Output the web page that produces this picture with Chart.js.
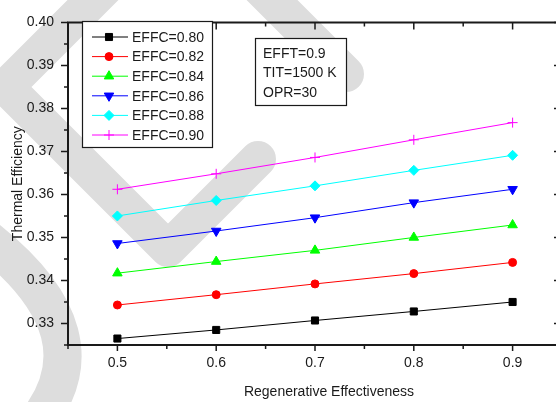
<!DOCTYPE html>
<html>
<head>
<meta charset="utf-8">
<script src="https://cdn.jsdelivr.net/npm/chart.js@4"></script>
<style>
  html, body { margin: 0; padding: 0; background: #fff; overflow: hidden; }
  #chart { display: block; }
</style>
</head>
<body>
<canvas id="chart" width="570" height="402"></canvas>
<script>
// regenerative effectiveness (x axis)
const regenEff = [0.5, 0.6, 0.7, 0.8, 0.9];

// thermal efficiency for each compressor effectiveness
const effc080 = [0.3265, 0.3285, 0.3307, 0.3328, 0.3350];
const effc082 = [0.3343, 0.3367, 0.3392, 0.3416, 0.3442];
const effc084 = [0.3417, 0.3444, 0.3470, 0.3500, 0.3529];
const effc086 = [0.3486, 0.3515, 0.3546, 0.3581, 0.3612];
const effc088 = [0.3550, 0.3586, 0.3620, 0.3656, 0.3691];
const effc090 = [0.3612, 0.3648, 0.3686, 0.3727, 0.3767];

const seriesLabels = ['EFFC=0.80', 'EFFC=0.82', 'EFFC=0.84', 'EFFC=0.86', 'EFFC=0.88', 'EFFC=0.90'];

const xTicks = [0.5, 0.6, 0.7, 0.8, 0.9];
const xMinor = [0.45, 0.55, 0.65, 0.75, 0.85, 0.95];
const yTicks = [0.33, 0.34, 0.35, 0.36, 0.37, 0.38, 0.39, 0.40];
const yMinor = [0.325, 0.335, 0.345, 0.355, 0.365, 0.375, 0.385, 0.395];

const infoLines = ['EFFT=0.9', 'TIT=1500 K', 'OPR=30'];

const FONT = "'Liberation Sans', Arial, sans-serif";
const INK = '#1a1a1a';

function pts(vals) {
  return regenEff.map((x, i) => ({ x: x, y: vals[i] }));
}

function series(label, vals, color, style, radius, rotation) {
  return {
    label: label,
    data: pts(vals),
    borderColor: color,
    backgroundColor: color,
    borderWidth: 1,
    pointStyle: style,
    pointRadius: radius,
    pointRotation: rotation || 0,
    pointBorderWidth: 1,
    pointHoverRadius: radius,
    fill: false,
    tension: 0
  };
}

// light grey watermark stripes behind the plot
const watermark = {
  id: 'watermark',
  beforeDraw(chart) {
    const ctx = chart.ctx;
    ctx.save();
    ctx.strokeStyle = '#dddddd';
    ctx.lineCap = 'round';
    ctx.lineJoin = 'round';
    ctx.lineWidth = 36;
    ctx.beginPath();
    ctx.moveTo(150, -57);
    ctx.lineTo(6, 87);
    ctx.lineTo(168, 249);
    ctx.lineTo(258, 159);
    ctx.stroke();
    ctx.beginPath();
    ctx.moveTo(220, -52);
    ctx.lineTo(346, 74);
    ctx.stroke();
    ctx.lineWidth = 38;
    ctx.beginPath();
    ctx.moveTo(-22, 232);
    ctx.quadraticCurveTo(115, 335, 30, 430);
    ctx.stroke();
    ctx.restore();
  }
};

function drawMarker(ctx, ds, x, y) {
  ctx.fillStyle = ds.backgroundColor;
  ctx.strokeStyle = ds.borderColor;
  ctx.lineWidth = ds.pointBorderWidth;
  Chart.helpers.drawPoint(ctx, {
    pointStyle: ds.pointStyle,
    radius: ds.pointRadius,
    rotation: ds.pointRotation,
    borderWidth: ds.pointBorderWidth
  }, x, y);
}

const frame = {
  id: 'frame',
  afterDraw(chart) {
    const ctx = chart.ctx;
    const { left, top, right, bottom } = chart.chartArea;
    const xs = chart.scales.x;
    const ys = chart.scales.y;
    ctx.save();
    ctx.strokeStyle = INK;

    // axis lines
    ctx.lineWidth = 2;
    ctx.beginPath();
    ctx.moveTo(left, top); ctx.lineTo(left, bottom);
    ctx.moveTo(left - 1, top); ctx.lineTo(right, top);
    ctx.moveTo(left - 1, bottom); ctx.lineTo(right, bottom);
    ctx.moveTo(right, top); ctx.lineTo(right, bottom);
    ctx.stroke();

    // ticks
    ctx.lineWidth = 1.5;
    ctx.beginPath();
    xTicks.forEach(v => {
      const px = xs.getPixelForValue(v);
      ctx.moveTo(px, bottom); ctx.lineTo(px, bottom + 6);
      ctx.moveTo(px, top); ctx.lineTo(px, top + 7);
    });
    xMinor.forEach(v => {
      const px = xs.getPixelForValue(v);
      ctx.moveTo(px, bottom); ctx.lineTo(px, bottom + 4);
      ctx.moveTo(px, top); ctx.lineTo(px, top + 4);
    });
    yTicks.forEach(v => {
      const py = ys.getPixelForValue(v);
      ctx.moveTo(left, py); ctx.lineTo(left - 7, py);
      ctx.moveTo(right, py); ctx.lineTo(right - 8, py);
    });
    yMinor.forEach(v => {
      const py = ys.getPixelForValue(v);
      ctx.moveTo(left, py); ctx.lineTo(left - 4, py);
      ctx.moveTo(right, py); ctx.lineTo(right - 4, py);
    });
    ctx.stroke();

    // legend box
    const lx = 82, ly = 21, lw = 130, lh = 126;
    ctx.fillStyle = '#fff';
    ctx.fillRect(lx, ly, lw, lh);
    ctx.lineWidth = 1.2;
    ctx.strokeStyle = INK;
    ctx.strokeRect(lx + 0.5, ly + 0.5, lw, lh);
    ctx.font = '14px ' + FONT;
    ctx.textBaseline = 'middle';
    ctx.textAlign = 'left';
    chart.data.datasets.forEach((ds, i) => {
      const ry = ly + 16 + i * 19.6;
      ctx.strokeStyle = ds.borderColor;
      ctx.lineWidth = 1;
      ctx.beginPath();
      ctx.moveTo(lx + 10, ry); ctx.lineTo(lx + 46, ry);
      ctx.stroke();
      drawMarker(ctx, ds, lx + 27, ry);
      ctx.fillStyle = INK;
      ctx.fillText(ds.label, lx + 50, ry + 1);
    });

    // info box
    const bx = 255, by = 38, bw = 91, bh = 67;
    ctx.fillStyle = '#fff';
    ctx.fillRect(bx, by, bw, bh);
    ctx.strokeStyle = INK;
    ctx.lineWidth = 1.2;
    ctx.strokeRect(bx + 0.5, by + 0.5, bw, bh);
    ctx.fillStyle = INK;
    infoLines.forEach((t, i) => {
      ctx.fillText(t, bx + 8, by + 16 + i * 19.5);
    });

    // x axis title
    ctx.textAlign = 'center';
    ctx.fillText('Regenerative Effectiveness', (left + right) / 2 + 14, 392);
    ctx.restore();
  }
};

new Chart(document.getElementById('chart'), {
  type: 'line',
  data: {
    datasets: [
      series(seriesLabels[0], effc080, '#000000', 'rect', 5),
      series(seriesLabels[1], effc082, '#ff0000', 'circle', 4),
      series(seriesLabels[2], effc084, '#00ff00', 'triangle', 5.5),
      series(seriesLabels[3], effc086, '#0000ff', 'triangle', 5.5, 180),
      series(seriesLabels[4], effc088, '#00ffff', 'rectRot', 5),
      series(seriesLabels[5], effc090, '#ff00ff', 'cross', 5)
    ]
  },
  options: {
    responsive: false,
    animation: false,
    devicePixelRatio: 1,
    layout: { padding: { top: 15, right: 8, left: 0, bottom: 0 } },
    plugins: {
      legend: { display: false },
      tooltip: { enabled: false }
    },
    scales: {
      x: {
        type: 'linear',
        min: 0.45,
        max: 0.95,
        afterBuildTicks: s => { s.ticks = xTicks.map(v => ({ value: v })); },
        afterFit: s => { s.height = 57; },
        grid: { display: false, drawTicks: false },
        border: { display: false },
        ticks: {
          padding: 10,
          autoSkip: false,
          maxRotation: 0,
          color: INK,
          font: { family: FONT, size: 14 },
          callback: v => v.toFixed(1)
        }
      },
      y: {
        type: 'linear',
        min: 0.325,
        max: 0.40,
        afterBuildTicks: s => { s.ticks = yTicks.map(v => ({ value: v })); },
        afterFit: s => { s.width = 68; },
        grid: { display: false, drawTicks: false },
        border: { display: false },
        ticks: {
          padding: 14,
          autoSkip: false,
          color: INK,
          font: { family: FONT, size: 14 },
          callback: v => v.toFixed(2)
        },
        title: {
          display: true,
          text: 'Thermal Efficiency',
          color: INK,
          font: { family: FONT, size: 14 },
          padding: { top: 10, bottom: 0 }
        }
      }
    }
  },
  plugins: [watermark, frame]
});
</script>
</body>
</html>
